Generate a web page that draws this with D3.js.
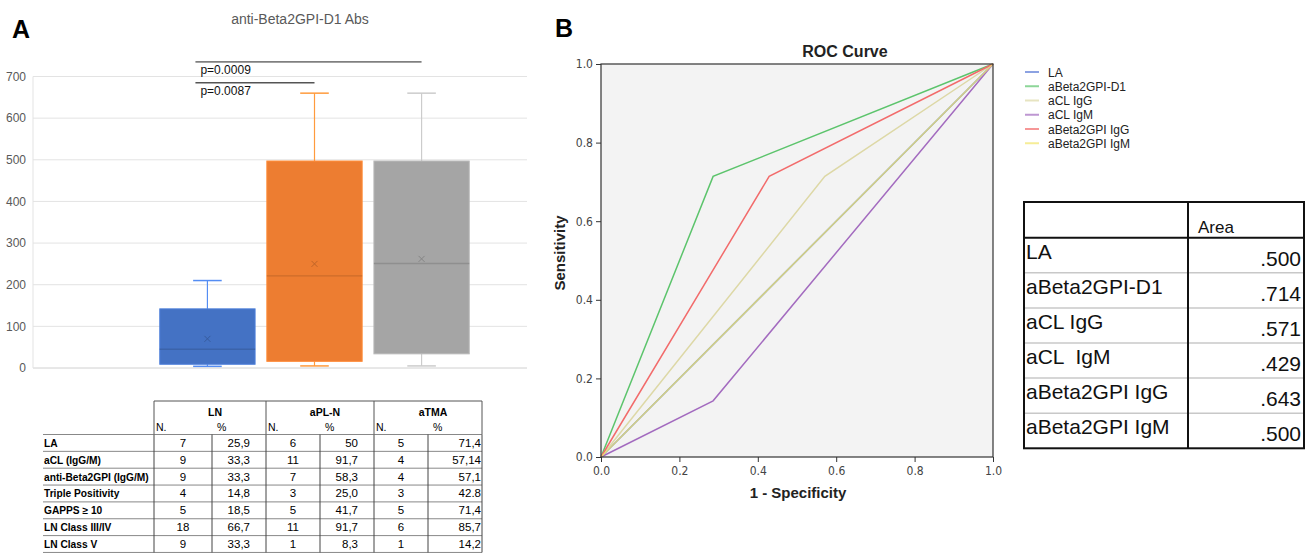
<!DOCTYPE html>
<html>
<head>
<meta charset="utf-8">
<script src="https://cdn.jsdelivr.net/npm/d3@7"></script>
<style>
  body { margin: 0; background: #fff; }
  svg { display: block; font-family: "Liberation Sans", Arial, sans-serif; }
</style>
</head>
<body>
<div id="chart"></div>
<script>
// ---- panel A : box plot data ----
var groups = ["LN", "aPL-N", "aTMA"]
var boxMin    = [4, 5, 5]
var boxQ1     = [9, 16, 34]
var boxMedian = [45, 221, 251]
var boxQ3     = [142, 497, 497]
var boxMax    = [210, 660, 660]
var boxMean   = [70, 250, 262]
var boxColors = ["#4472c4", "#ed7d31", "#a5a5a5"]
var yTicksA = [0, 100, 200, 300, 400, 500, 600, 700]

var sigFrom = ["LN", "LN"]
var sigTo   = ["aTMA", "aPL-N"]
var sigText = ["p=0.0009", "p=0.0087"]
var sigLevel = [735, 685]   // bracket height in y units

// ---- panel A : table ----
var tableRows = ["LA", "aCL (IgG/M)", "anti-Beta2GPI (IgG/M)", "Triple Positivity", "GAPPS \u2265 10", "LN Class III/IV", "LN Class V"]
var lnN   = [7, 9, 9, 4, 5, 18, 9]
var lnPct = ["25,9", "33,3", "33,3", "14,8", "18,5", "66,7", "33,3"]
var apnN   = [6, 11, 7, 3, 5, 11, 1]
var apnPct = ["50", "91,7", "58,3", "25,0", "41,7", "91,7", "8,3"]
var tmaN   = [5, 4, 4, 3, 5, 6, 1]
var tmaPct = ["71,4", "57,14", "57,1", "42.8", "71,4", "85,7", "14,2"]

// ---- panel B : ROC ----
var rocNames  = ["LA", "aBeta2GPI-D1", "aCL IgG", "aCL IgM", "aBeta2GPI IgG", "aBeta2GPI IgM"]
var rocColors = ["#5b7bd5", "#5cc46c", "#ddd8a6", "#a36bbf", "#f26b6b", "#f2e66b"]
var rocFpr = [[0, 1], [0, 0.286, 1], [0, 0.571, 1], [0, 0.286, 1], [0, 0.429, 1], [0, 1]]
var rocTpr = [[0, 1], [0, 0.714, 1], [0, 0.714, 1], [0, 0.143, 1], [0, 0.714, 1], [0, 1]]
var rocTicks = [0, 0.2, 0.4, 0.6, 0.8, 1.0]

var areaLabels = ["LA", "aBeta2GPI-D1", "aCL IgG", "aCL  IgM", "aBeta2GPI IgG", "aBeta2GPI IgM"]
var areaValues = [".500", ".714", ".571", ".429", ".643", ".500"]

var W = 1311, H = 556
var svg = d3.select('#chart').append('svg').attr('width', W).attr('height', H)

// ================= PANEL A =================
svg.append('text').attr('x', 12).attr('y', 38).text('A')
  .style('font-size', '25px').style('font-weight', 'bold')

svg.append('text').attr('x', 300).attr('y', 24).attr('text-anchor', 'middle')
  .text('anti-Beta2GPI-D1 Abs').style('font-size', '14px').attr('fill', '#595959')

var aLeft = 33, aRight = 527
var yA = d3.scaleLinear().domain([0, 700]).range([368, 76.5])
var xA = d3.scaleBand().domain(groups).range([148, 481]).padding(0.11)

var gA = svg.append('g')
gA.selectAll('line.grid').data(yTicksA).enter().append('line')
  .attr('x1', aLeft).attr('x2', aRight)
  .attr('y1', d => yA(d)).attr('y2', d => yA(d))
  .attr('stroke', d => d == 0 ? '#d0d0d0' : '#e3e3e3').attr('stroke-width', 1)
gA.append('line').attr('x1', aLeft).attr('x2', aLeft).attr('y1', yA(700)).attr('y2', yA(0))
  .attr('stroke', '#e3e3e3')

var yAxisA = d3.axisLeft(yA).tickValues(yTicksA).tickSize(0).tickPadding(7)
var ya = gA.append('g').attr('transform', 'translate(' + aLeft + ',0)').call(yAxisA)
ya.select('.domain').remove()
ya.selectAll('text').style('font-size', '12px').attr('fill', '#595959')
  .style('font-family', '"Liberation Sans", Arial, sans-serif')

var boxes = groups.map(function(g, i) {
  return {g: g, min: boxMin[i], q1: boxQ1[i], med: boxMedian[i], q3: boxQ3[i], max: boxMax[i], mean: boxMean[i], col: boxColors[i]}
})
var bw = xA.bandwidth()
var capW = bw * 0.3
var bg = gA.selectAll('g.box').data(boxes).enter().append('g')
  .attr('transform', d => 'translate(' + (xA(d.g) + bw / 2) + ',0)')

// whiskers
bg.append('line').attr('x1', 0).attr('x2', 0).attr('y1', d => yA(d.q3)).attr('y2', d => yA(d.max))
  .attr('stroke', d => d3.color(d.col).brighter(0.6)).attr('stroke-width', 1.2)
bg.append('line').attr('x1', 0).attr('x2', 0).attr('y1', d => yA(d.q1)).attr('y2', d => yA(d.min))
  .attr('stroke', d => d3.color(d.col).brighter(0.6)).attr('stroke-width', 1.2)
bg.append('line').attr('x1', -capW / 2).attr('x2', capW / 2).attr('y1', d => yA(d.max)).attr('y2', d => yA(d.max))
  .attr('stroke', d => d3.color(d.col).brighter(0.6)).attr('stroke-width', 1.5)
bg.append('line').attr('x1', -capW / 2).attr('x2', capW / 2).attr('y1', d => yA(d.min)).attr('y2', d => yA(d.min))
  .attr('stroke', d => d3.color(d.col).brighter(0.6)).attr('stroke-width', 1.5)
// box
bg.append('rect').attr('x', -bw / 2).attr('width', bw)
  .attr('y', d => yA(d.q3)).attr('height', d => yA(d.q1) - yA(d.q3))
  .attr('fill', d => d.col).attr('stroke', d => d3.color(d.col).brighter(0.3)).attr('stroke-width', 1)
// median
bg.append('line').attr('x1', -bw / 2).attr('x2', bw / 2).attr('y1', d => yA(d.med)).attr('y2', d => yA(d.med))
  .attr('stroke', d => d3.color(d.col).darker(0.4)).attr('stroke-width', 1.3)
// mean marker
bg.append('path').attr('d', 'M-3,-3L3,3M-3,3L3,-3')
  .attr('transform', d => 'translate(0,' + yA(d.mean) + ')')
  .attr('stroke', d => d3.color(d.col).darker(0.6)).attr('stroke-width', 1).attr('fill', 'none')

// significance brackets
sigText.forEach(function(t, i) {
  var x0 = xA(sigFrom[i]) + bw / 2 - 12
  var x1 = xA(sigTo[i]) + bw / 2
  var y = yA(sigLevel[i])
  gA.append('line').attr('x1', x0).attr('x2', x1).attr('y1', y).attr('y2', y)
    .attr('stroke', i == 0 ? '#222' : '#555').attr('stroke-width', i == 0 ? 1 : 1.5)
  gA.append('text').attr('x', x0 + 5).attr('y', y + 12).text(t)
    .style('font-size', '12px').attr('fill', '#111')
})

// table under panel A
var tCols = [43, 154, 212, 266, 320, 374, 428, 482]
var tTop = 401, tHeadLine = 434.5, rowH = 16.85
var gT = svg.append('g')
var tLine = function(x1, y1, x2, y2, c) {
  gT.append('line').attr('x1', x1).attr('y1', y1).attr('x2', x2).attr('y2', y2)
    .attr('stroke', c).attr('stroke-width', 1)
}
tLine(tCols[1], tTop, tCols[7], tTop, '#555')
;[1, 3, 5, 7].forEach(function(k) { tLine(tCols[k], tTop, tCols[k], tHeadLine, '#555') })
for (var r = 0; r <= tableRows.length; r++) {
  tLine(tCols[0], tHeadLine + r * rowH, tCols[7], tHeadLine + r * rowH, '#888')
}
for (var k = 1; k < tCols.length; k++) {
  tLine(tCols[k], tHeadLine, tCols[k], tHeadLine + tableRows.length * rowH, '#444')
}
groups.forEach(function(g, i) {
  var a = tCols[1 + i * 2], b = tCols[3 + i * 2]
  gT.append('text').attr('x', (a + b) / 2 + 5).attr('y', 416).attr('text-anchor', 'middle')
    .text(g).style('font-size', '10.5px').style('font-weight', 'bold')
  gT.append('text').attr('x', a + 2).attr('y', 431).text('N.').style('font-size', '10.5px')
  gT.append('text').attr('x', tCols[2 + i * 2] + 5).attr('y', 431).text('%').style('font-size', '10.5px')
})
var nCols = [lnN, apnN, tmaN], pCols = [lnPct, apnPct, tmaPct]
var pPad = [16, 16, 1]
tableRows.forEach(function(lab, r) {
  var yb = tHeadLine + r * rowH + rowH / 2 + 4
  gT.append('text').attr('x', tCols[0] + 1).attr('y', yb).text(lab)
    .style('font-size', '10.2px').style('font-weight', 'bold')
  for (var c = 0; c < 3; c++) {
    gT.append('text').attr('x', (tCols[1 + c * 2] + tCols[2 + c * 2]) / 2).attr('y', yb)
      .attr('text-anchor', 'middle').text(nCols[c][r]).style('font-size', '11.5px')
    gT.append('text').attr('x', tCols[3 + c * 2] - pPad[c]).attr('y', yb)
      .attr('text-anchor', 'end').text(pCols[c][r]).style('font-size', '11.5px')
  }
})

// ================= PANEL B =================
svg.append('text').attr('x', 555).attr('y', 37).text('B')
  .style('font-size', '25px').style('font-weight', 'bold')

var bL = 601, bR = 993, bT = 64, bB = 457
var xB = d3.scaleLinear().domain([0, 1]).range([bL, bR])
var yB = d3.scaleLinear().domain([0, 1]).range([bB, bT])
var gB = svg.append('g')

svg.append('text').attr('x', 845).attr('y', 57).attr('text-anchor', 'middle')
  .text('ROC Curve').style('font-size', '16px').style('font-weight', 'bold').attr('fill', '#222')

gB.append('rect').attr('x', bL).attr('y', bT).attr('width', bR - bL).attr('height', bB - bT)
  .attr('fill', '#f3f3f3')

var line = d3.line().x(d => xB(d[0])).y(d => yB(d[1]))
rocNames.forEach(function(n, i) {
  var pts = rocFpr[i].map((f, j) => [f, rocTpr[i][j]])
  gB.append('path').attr('d', line(pts)).attr('fill', 'none')
    .attr('stroke', rocColors[i]).attr('stroke-width', 1.5)
    .attr('stroke-opacity', i == 5 ? 0.8 : 1)
})

gB.append('rect').attr('x', bL).attr('y', bT).attr('width', bR - bL).attr('height', bB - bT)
  .attr('fill', 'none').attr('stroke', '#333').attr('stroke-width', 1.2)

var xAxisB = d3.axisBottom(xB).tickValues(rocTicks).tickFormat(d3.format('.1f')).tickSize(5).tickPadding(4)
var yAxisB = d3.axisLeft(yB).tickValues(rocTicks).tickFormat(d3.format('.1f')).tickSize(5).tickPadding(3)
var xb = gB.append('g').attr('transform', 'translate(0,' + bB + ')').call(xAxisB)
var yb = gB.append('g').attr('transform', 'translate(' + bL + ',0)').call(yAxisB)
;[xb, yb].forEach(function(a) {
  a.select('.domain').remove()
  a.selectAll('line').attr('stroke', '#333')
  a.selectAll('text').style('font-size', '12px').attr('fill', '#444')
    .style('font-family', '"DejaVu Sans Condensed", "DejaVu Sans", sans-serif')
})

svg.append('text').attr('x', 798).attr('y', 498).attr('text-anchor', 'middle')
  .text('1 - Specificity').style('font-size', '15px').style('font-weight', 'bold').attr('fill', '#222')
svg.append('text').attr('transform', 'translate(565,253) rotate(-90)').attr('text-anchor', 'middle')
  .text('Sensitivity').style('font-size', '15px').style('font-weight', 'bold').attr('fill', '#222')

// legend
var lg = svg.append('g')
rocNames.forEach(function(n, i) {
  var y = 72 + i * 14.25
  lg.append('line').attr('x1', 1025).attr('x2', 1039).attr('y1', y).attr('y2', y)
    .attr('stroke', rocColors[i]).attr('stroke-width', 2).attr('stroke-opacity', 0.7)
  lg.append('text').attr('x', 1048).attr('y', y + 4.5).text(n)
    .style('font-size', '12px').attr('fill', '#222')
})

// AUC table
var aL = 1024, aM = 1188, aR = 1304, aT = 202, aHead = 237.7, aRowH = 35.1
var gAr = svg.append('g')
for (var r = 1; r < areaLabels.length; r++) {
  gAr.append('line').attr('x1', aL).attr('x2', aR)
    .attr('y1', aHead + r * aRowH).attr('y2', aHead + r * aRowH)
    .attr('stroke', '#c8c8c8').attr('stroke-width', 1.5)
}
gAr.append('rect').attr('x', aL).attr('y', aT).attr('width', aR - aL)
  .attr('height', aHead + areaLabels.length * aRowH - aT)
  .attr('fill', 'none').attr('stroke', '#111').attr('stroke-width', 2)
gAr.append('line').attr('x1', aL).attr('x2', aR).attr('y1', aHead).attr('y2', aHead)
  .attr('stroke', '#111').attr('stroke-width', 2)
gAr.append('line').attr('x1', aM).attr('x2', aM).attr('y1', aT).attr('y2', aHead + areaLabels.length * aRowH)
  .attr('stroke', '#111').attr('stroke-width', 2)
gAr.append('text').attr('x', aM + 10).attr('y', aHead - 5).text('Area')
  .style('font-size', '17px').attr('fill', '#111')
areaLabels.forEach(function(lab, i) {
  var top = aHead + i * aRowH
  gAr.append('text').attr('x', aL + 2).attr('y', top + 21).text(lab)
    .style('font-size', '21px').style('white-space', 'pre').attr('fill', '#111')
  gAr.append('text').attr('x', aR - 3).attr('y', top + 28).attr('text-anchor', 'end')
    .text(areaValues[i]).style('font-size', '21px').attr('fill', '#111')
})
</script>
</body>
</html>
